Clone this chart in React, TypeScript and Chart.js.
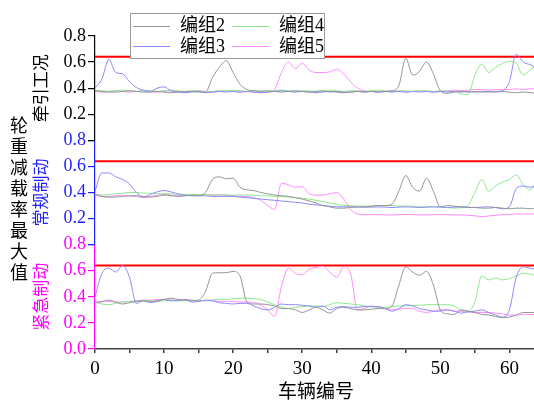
import React, { useEffect, useRef } from 'react';
import { Chart, registerables } from 'chart.js';

Chart.register(...registerables);

// ---------- data ----------
const vehicleNo = [
  0, 1, 2, 3, 4, 5, 6, 7, 8, 9, 10, 11, 12, 13, 14, 15, 16, 17, 18, 19, 20, 21, 22, 23, 24, 25,
  26, 27, 28, 29, 30, 31, 32, 33, 34, 35, 36, 37, 38, 39, 40, 41, 42, 43, 44, 45, 46, 47, 48, 49,
  50, 51, 52, 53, 54, 55, 56, 57, 58, 59, 60, 61, 62, 63, 64,
];

const seriesNames = ['编组2', '编组3', '编组4', '编组5'];
const panelTitles = ['牵引工况', '常规制动', '紧急制动'];
const sideTitle = '轮重减载率最大值';
const xTitle = '车辆编号';
const limitValue = [0.64, 0.64];
const limitX = [0, 64];

// 牵引工况
const tractionG2 = [
  0.38, 0.375, 0.37, 0.37, 0.375, 0.38, 0.375, 0.37, 0.37, 0.375,
  0.37, 0.365, 0.37, 0.375, 0.375, 0.37, 0.37, 0.48, 0.56, 0.61,
  0.52, 0.43, 0.39, 0.38, 0.375, 0.38, 0.375, 0.37, 0.375, 0.38,
  0.375, 0.37, 0.375, 0.38, 0.37, 0.375, 0.37, 0.37, 0.375, 0.37,
  0.375, 0.37, 0.375, 0.38, 0.42, 0.63, 0.5, 0.53, 0.6, 0.51,
  0.38, 0.36, 0.37, 0.375, 0.37, 0.375, 0.37, 0.375, 0.37, 0.375,
  0.37, 0.365, 0.37, 0.365, 0.36,
];
const tractionG3 = [
  0.4, 0.47, 0.62, 0.52, 0.51, 0.45, 0.405, 0.385, 0.375, 0.4,
  0.41, 0.38, 0.37, 0.365, 0.37, 0.375, 0.365, 0.37, 0.375, 0.37,
  0.375, 0.37, 0.375, 0.37, 0.365, 0.37, 0.375, 0.38, 0.375, 0.37,
  0.375, 0.37, 0.365, 0.37, 0.375, 0.37, 0.365, 0.37, 0.375, 0.37,
  0.375, 0.37, 0.375, 0.37, 0.375, 0.37, 0.375, 0.37, 0.375, 0.37,
  0.375, 0.37, 0.375, 0.37, 0.375, 0.37, 0.375, 0.37, 0.375, 0.38,
  0.45, 0.66, 0.6, 0.58, 0.55,
];
const tractionG4 = [
  0.38, 0.38, 0.375, 0.38, 0.385, 0.38, 0.375, 0.38, 0.38, 0.375,
  0.38, 0.385, 0.38, 0.375, 0.38, 0.38, 0.37, 0.375, 0.38, 0.38,
  0.385, 0.38, 0.375, 0.38, 0.38, 0.375, 0.38, 0.385, 0.38, 0.375,
  0.38, 0.38, 0.375, 0.38, 0.385, 0.38, 0.375, 0.38, 0.38, 0.375,
  0.38, 0.385, 0.38, 0.375, 0.38, 0.38, 0.375, 0.38, 0.38, 0.375,
  0.38, 0.375, 0.375, 0.355, 0.35, 0.5, 0.585, 0.52, 0.56, 0.59,
  0.605, 0.59, 0.5, 0.54, 0.58,
];
const tractionG5 = [
  0.375, 0.37, 0.375, 0.38, 0.375, 0.37, 0.375, 0.38, 0.375, 0.37,
  0.375, 0.38, 0.375, 0.37, 0.375, 0.38, 0.375, 0.37, 0.375, 0.38,
  0.375, 0.37, 0.375, 0.37, 0.365, 0.37, 0.39, 0.52, 0.6, 0.55,
  0.59, 0.54, 0.52, 0.52, 0.525, 0.545, 0.51, 0.45, 0.4, 0.38,
  0.375, 0.37, 0.375, 0.38, 0.375, 0.37, 0.375, 0.38, 0.375, 0.37,
  0.375, 0.38, 0.385, 0.38, 0.385, 0.39, 0.39, 0.385, 0.39, 0.39,
  0.39, 0.395, 0.39, 0.395, 0.395,
];

// 常规制动
const serviceG2 = [
  0.39, 0.37, 0.365, 0.365, 0.37, 0.375, 0.375, 0.37, 0.365, 0.37,
  0.38, 0.375, 0.37, 0.375, 0.38, 0.375, 0.4, 0.5, 0.52, 0.505,
  0.51, 0.44, 0.42, 0.415, 0.4, 0.39, 0.38, 0.375, 0.37, 0.36,
  0.35, 0.335, 0.32, 0.3, 0.29, 0.28, 0.28, 0.285, 0.29, 0.29,
  0.295, 0.3, 0.3, 0.31, 0.41, 0.53, 0.44, 0.41, 0.51, 0.41,
  0.29, 0.3, 0.295, 0.29, 0.285, 0.285, 0.28, 0.28, 0.285, 0.28,
  0.275, 0.28, 0.28, 0.275, 0.28,
];
const serviceG3 = [
  0.41, 0.55, 0.55, 0.52, 0.5, 0.465, 0.4, 0.365, 0.385, 0.405,
  0.415, 0.405, 0.39, 0.38, 0.375, 0.375, 0.375, 0.37, 0.37, 0.37,
  0.37, 0.365, 0.36, 0.355, 0.35, 0.345, 0.34, 0.335, 0.33, 0.325,
  0.32, 0.31, 0.305, 0.3, 0.295, 0.29, 0.29, 0.29, 0.288, 0.288,
  0.288, 0.29, 0.288, 0.285, 0.288, 0.29, 0.288, 0.285, 0.288, 0.29,
  0.288, 0.285, 0.288, 0.29, 0.288, 0.285, 0.288, 0.29, 0.285, 0.275,
  0.29, 0.43, 0.45, 0.44, 0.45,
];
const serviceG4 = [
  0.385, 0.38, 0.385, 0.39, 0.395, 0.4, 0.4, 0.395, 0.395, 0.39,
  0.39, 0.39, 0.385, 0.385, 0.385, 0.385, 0.385, 0.38, 0.38, 0.38,
  0.38, 0.38, 0.38, 0.38, 0.375, 0.375, 0.37, 0.37, 0.365, 0.36,
  0.355, 0.35, 0.34, 0.33, 0.32, 0.31, 0.3, 0.3, 0.295, 0.295,
  0.295, 0.3, 0.3, 0.3, 0.295, 0.295, 0.295, 0.29, 0.29, 0.29,
  0.29, 0.285, 0.28, 0.285, 0.3, 0.4, 0.5, 0.41, 0.45, 0.48,
  0.5, 0.535, 0.46, 0.42, 0.5,
];
const serviceG5 = [
  0.38, 0.37, 0.37, 0.375, 0.38, 0.375, 0.37, 0.36, 0.37, 0.38,
  0.385, 0.38, 0.375, 0.375, 0.38, 0.385, 0.385, 0.38, 0.385, 0.38,
  0.375, 0.37, 0.37, 0.36, 0.34, 0.3, 0.27, 0.47, 0.46, 0.44,
  0.445, 0.39, 0.38, 0.38, 0.39, 0.4, 0.35, 0.27, 0.235, 0.23,
  0.23, 0.23, 0.228, 0.228, 0.23, 0.232, 0.23, 0.228, 0.228, 0.23,
  0.23, 0.23, 0.228, 0.228, 0.225, 0.222, 0.215, 0.22, 0.225, 0.23,
  0.232, 0.235, 0.235, 0.235, 0.235,
];

// 紧急制动
const emergencyG2 = [
  0.355, 0.365, 0.375, 0.36, 0.345, 0.355, 0.365, 0.37, 0.365, 0.37,
  0.38, 0.39, 0.38, 0.375, 0.37, 0.375, 0.44, 0.58, 0.585, 0.585,
  0.595, 0.56, 0.36, 0.345, 0.345, 0.34, 0.33, 0.31, 0.31, 0.3,
  0.28, 0.3, 0.32, 0.3, 0.275, 0.31, 0.32, 0.31, 0.3, 0.3,
  0.305, 0.31, 0.31, 0.33, 0.49, 0.63, 0.59, 0.565, 0.595, 0.49,
  0.3, 0.27, 0.265, 0.3, 0.29, 0.28, 0.265, 0.26, 0.25, 0.24,
  0.245, 0.26, 0.28, 0.28, 0.28,
];
const emergencyG3 = [
  0.4, 0.58, 0.62, 0.59, 0.64, 0.55, 0.35, 0.37, 0.355, 0.365,
  0.38, 0.37, 0.37, 0.38, 0.36, 0.365, 0.375, 0.37, 0.355, 0.35,
  0.345, 0.35, 0.35, 0.33, 0.31, 0.3, 0.32, 0.345, 0.34, 0.34,
  0.335, 0.33, 0.32, 0.33, 0.3, 0.32, 0.325, 0.32, 0.32, 0.325,
  0.325, 0.325, 0.31, 0.29, 0.31, 0.34, 0.33, 0.31, 0.3, 0.29,
  0.29, 0.3, 0.29, 0.275, 0.285, 0.29, 0.3, 0.28, 0.26, 0.245,
  0.3, 0.55, 0.63, 0.62, 0.61,
];
const emergencyG4 = [
  0.357, 0.345, 0.34, 0.35, 0.36, 0.365, 0.365, 0.37, 0.37, 0.365,
  0.37, 0.375, 0.37, 0.37, 0.375, 0.37, 0.37, 0.375, 0.38, 0.38,
  0.385, 0.39, 0.39, 0.385, 0.38, 0.36, 0.34, 0.32, 0.31, 0.32,
  0.325, 0.33, 0.33, 0.325, 0.34, 0.355, 0.35, 0.345, 0.34, 0.33,
  0.325, 0.32, 0.32, 0.325, 0.33, 0.33, 0.335, 0.335, 0.34, 0.34,
  0.34, 0.34, 0.33, 0.3, 0.29, 0.36, 0.56, 0.53, 0.545, 0.53,
  0.54, 0.56, 0.58, 0.575, 0.56,
];
const emergencyG5 = [
  0.36, 0.36, 0.365, 0.36, 0.36, 0.365, 0.37, 0.375, 0.375, 0.38,
  0.38, 0.375, 0.375, 0.38, 0.375, 0.37, 0.37, 0.37, 0.365, 0.365,
  0.365, 0.36, 0.36, 0.355, 0.34, 0.3, 0.25, 0.48, 0.62, 0.58,
  0.57, 0.61, 0.625, 0.635, 0.59, 0.55, 0.63, 0.58, 0.3, 0.31,
  0.33, 0.32, 0.31, 0.3, 0.305, 0.31, 0.31, 0.29, 0.28, 0.29,
  0.3, 0.3, 0.29, 0.29, 0.285, 0.28, 0.28, 0.28, 0.275, 0.27,
  0.26, 0.26, 0.265, 0.265, 0.265,
];

// ---------- styles ----------
const SERIES_COLORS = ['#959595', '#8a8aff', '#8ee88e', '#ff8cff'];
const PANEL_COLORS = ['#000000', '#1e1eff', '#ff00ff'];
const LIMIT_COLOR = '#ff0000';
const FAMILY = '"Liberation Serif", "Times New Roman", "Noto Sans CJK SC", serif';

// listed top to bottom
const panels = [
  { id: 'yTraction', series: [tractionG2, tractionG3, tractionG4, tractionG5], showZero: false },
  { id: 'yService', series: [serviceG2, serviceG3, serviceG4, serviceG5], showZero: false },
  { id: 'yEmergency', series: [emergencyG2, emergencyG3, emergencyG4, emergencyG5], showZero: true },
];

const overlayPlugin = {
  id: 'overlayText',
  afterDraw(chart: any) {
    const ctx = chart.ctx as CanvasRenderingContext2D;
    ctx.save();
    // side title, one character per line
    ctx.fillStyle = '#000';
    ctx.font = `18px ${FAMILY}`;
    ctx.textAlign = 'center';
    ctx.textBaseline = 'middle';
    const chars = Array.from(sideTitle);
    chars.forEach((ch, i) => ctx.fillText(ch, 19, 127 + i * 21.1));

    // legend
    const bx = 130, by = 13, bw = 194, bh = 45;
    ctx.fillStyle = '#fff';
    ctx.fillRect(bx, by, bw, bh);
    ctx.strokeStyle = '#9a9a9a';
    ctx.lineWidth = 1;
    ctx.strokeRect(bx + 0.5, by + 0.5, bw, bh);
    const cells = [
      { idx: 0, col: 0, row: 0 },
      { idx: 2, col: 1, row: 0 },
      { idx: 1, col: 0, row: 1 },
      { idx: 3, col: 1, row: 1 },
    ];
    ctx.textAlign = 'left';
    cells.forEach(({ idx, col, row }) => {
      const lx = 133 + col * 99;
      const ly = 25.5 + row * 20.5;
      ctx.strokeStyle = SERIES_COLORS[idx];
      ctx.beginPath();
      ctx.moveTo(lx, Math.round(ly) + 0.5);
      ctx.lineTo(lx + 37, Math.round(ly) + 0.5);
      ctx.stroke();
      ctx.fillStyle = '#000';
      ctx.fillText(seriesNames[idx], lx + 47, ly + 1);
    });
    ctx.restore();
  },
};

export default function App() {
  const canvasRef = useRef<HTMLCanvasElement | null>(null);

  useEffect(() => {
    const canvas = canvasRef.current;
    if (!canvas) return;

    const datasets: any[] = [];
    panels.forEach((p) => {
      p.series.forEach((vals, si) => {
        datasets.push({
          label: seriesNames[si],
          yAxisID: p.id,
          xAxisID: 'x',
          data: vehicleNo.map((x, i) => ({ x, y: vals[i] })),
          borderColor: SERIES_COLORS[si],
          borderWidth: 1,
          pointRadius: 0,
          fill: false,
          cubicInterpolationMode: 'monotone',
          order: 1,
        });
      });
      datasets.push({
        label: 'limit',
        yAxisID: p.id,
        xAxisID: 'x',
        data: limitX.map((x, i) => ({ x, y: limitValue[i] })),
        borderColor: LIMIT_COLOR,
        borderWidth: 2,
        pointRadius: 0,
        fill: false,
        order: 2,
      });
    });

    const scales: any = {
      x: {
        type: 'linear',
        position: 'bottom',
        min: 0,
        max: 64,
        border: { display: true, color: '#404040', width: 1.5 },
        grid: { drawOnChartArea: false, drawTicks: true, tickLength: 4, color: '#404040', lineWidth: 1.5 },
        ticks: {
          stepSize: 5,
          includeBounds: false,
          autoSkip: false,
          maxRotation: 0,
          color: '#000',
          padding: 5,
          font: { family: FAMILY, size: 19 },
          callback: (v: number) => (v % 10 === 0 ? String(v) : ''),
        },
        title: {
          display: true,
          text: xTitle,
          color: '#000',
          font: { family: FAMILY, size: 19 },
          padding: { top: 0, bottom: 0 },
        },
        afterFit: (s: any) => {
          s.height = 55;
        },
      },
    };

    // stacked scales are laid out bottom-first, so add them in reverse
    for (let pi = panels.length - 1; pi >= 0; pi--) {
      const p = panels[pi];
      const color = PANEL_COLORS[pi];
      scales[p.id] = {
        type: 'linear',
        position: 'left',
        stack: 'panels',
        stackWeight: 1,
        min: 0,
        max: 0.8,
        border: { display: true, color, width: 1.2 },
        grid: { drawOnChartArea: false, drawTicks: true, tickLength: 7, color, lineWidth: 1.2 },
        ticks: {
          stepSize: 0.2,
          color,
          padding: 2,
          autoSkip: false,
          font: { family: FAMILY, size: 18 },
          callback: (v: number) => (Math.abs(v) < 1e-9 && !p.showZero ? '' : Number(v).toFixed(1)),
        },
        title: {
          display: true,
          text: panelTitles[pi],
          color,
          font: { family: FAMILY, size: 17 },
          padding: { top: 4, bottom: 0 },
        },
        afterFit: (s: any) => {
          s.width = 67;
        },
      };
    }

    const chart = new Chart(canvas, {
      type: 'line',
      data: { datasets },
      options: {
        responsive: false,
        animation: false,
        devicePixelRatio: 1,
        layout: { padding: { top: 36, left: 28, right: 0, bottom: 0 } },
        plugins: { legend: { display: false }, tooltip: { enabled: false }, title: { display: false } },
        scales,
      },
      plugins: [overlayPlugin],
    } as any);

    return () => {
      chart.destroy();
    };
  }, []);

  return (
    <div
      style={{
        position: 'fixed',
        left: 0,
        top: 0,
        width: 534,
        height: 404,
        overflow: 'hidden',
        background: '#fff',
      }}
    >
      <canvas ref={canvasRef} width={537} height={404} style={{ display: 'block' }} />
    </div>
  );
}
